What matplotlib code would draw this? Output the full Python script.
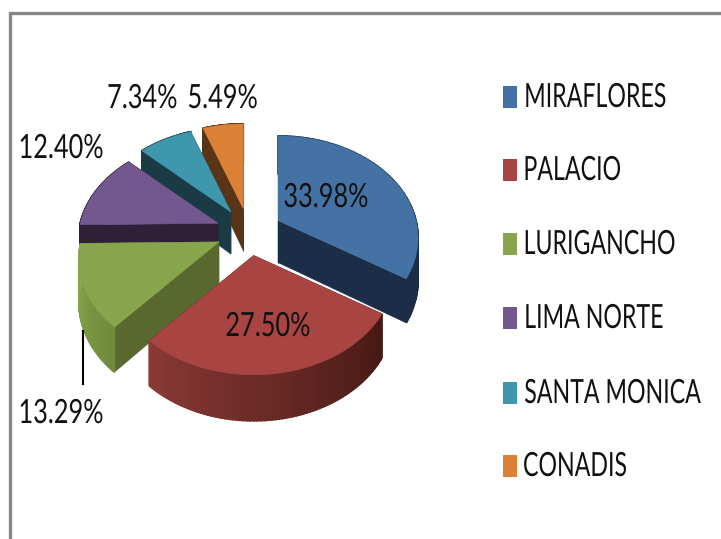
import numpy as np
import matplotlib
matplotlib.use('Agg')
import matplotlib.pyplot as plt
from matplotlib.colors import to_rgb
from matplotlib.patches import Rectangle
from matplotlib.patheffects import AbstractPathEffect
from matplotlib.transforms import Affine2D

names = ['MIRAFLORES', 'PALACIO', 'LURIGANCHO', 'LIMA NORTE', 'SANTA MONICA', 'CONADIS']
shares = [33.98, 27.50, 13.29, 12.40, 7.34, 5.49]
labels = ['33.98%', '27.50%', '13.29%', '12.40%', '7.34%', '5.49%']
top_colors = ['#4472a5', '#a84542', '#87a54a', '#735890', '#3f97ae', '#db8237']
cut_colors = ['#1b2d47', '#451813', '#58682f', '#2e2038', '#1a3b46', '#5a3417']
rim_left = ['#1b2d47', '#8a3a35', '#8aa94c', '#2e2038', '#1a3b46', '#5a3417']
rim_right = ['#1b2d47', '#451813', '#6f8a3c', '#2e2038', '#1a3b46', '#5a3417']

# pie geometry, in pixels
cx, cy = 249, 232
rx, ry = 138, 99
persp = 0.17
depth = 42
explode = 0.24


class Squeeze(AbstractPathEffect):
    # the reference text is stretched tall and narrow, so narrow the glyphs
    def __init__(self, sx, anchor='left'):
        super().__init__()
        self.sx = sx
        self.anchor = anchor

    def draw_path(self, renderer, gc, tpath, affine, rgbFace=None):
        box = tpath.get_extents()
        x0 = {'left': box.x0, 'center': (box.x0 + box.x1) / 2, 'right': box.x1}[self.anchor]
        squeeze = Affine2D().translate(-x0, 0).scale(self.sx, 1).translate(x0, 0)
        renderer.draw_path(gc, tpath, squeeze + affine, rgbFace)


def project(theta, apex):
    # theta runs clockwise from 12 o'clock
    xp = np.sin(theta)
    yp = np.cos(theta)
    w = 1 + persp * yp
    return apex[0] + rx * xp / w, apex[1] - ry * yp / w, depth - 4 * yp


def fill(ax, xs, ys, color, lw=0.4):
    ax.fill(xs, ys, color=color, lw=lw, zorder=2)


def draw_slice(ax, start, end, i):
    mid = (start + end) / 2
    apex = (cx + rx * explode * np.sin(mid), cy - ry * explode * np.cos(mid))
    th = np.linspace(start, end, 80)
    x, y, d = project(th, apex)

    # cut faces
    for k in (0, -1):
        fill(ax, [apex[0], x[k], x[k], apex[0]],
             [apex[1], y[k], y[k] + d[k], apex[1] + depth], cut_colors[i])

    # outer rim, shaded from left to right
    c0 = np.array(to_rgb(rim_left[i]))
    c1 = np.array(to_rgb(rim_right[i]))
    for j in range(len(th) - 1):
        t = (j + 0.5) / (len(th) - 1)
        if x[0] > x[-1]:
            t = 1 - t
        fill(ax, [x[j], x[j + 1], x[j + 1], x[j]],
             [y[j], y[j + 1], y[j + 1] + d[j + 1], y[j] + d[j]], tuple(c0 + (c1 - c0) * t), lw=1.2)

    # top face
    fill(ax, np.r_[apex[0], x], np.r_[apex[1], y], top_colors[i])


fig = plt.figure(figsize=(7.21, 5.39), dpi=100)
ax = fig.add_axes([0, 0, 1, 1])
ax.set_xlim(0, 721)
ax.set_ylim(539, 0)
ax.axis('off')

# chart border, only top and left show
ax.plot([10, 10, 721], [539, 12.5, 12.5], color='#868686', lw=2.4, solid_joinstyle='miter')

edges = np.r_[0, np.cumsum(shares)] / sum(shares) * 2 * np.pi
for i in [5, 4, 3, 0, 2, 1]:
    draw_slice(ax, edges[i], edges[i + 1], i)

font = 'Lato'
fs = 24
label_sx = 0.76
legend_sx = 0.695


def put_text(x, y, txt, anchor, sx, zorder=3):
    ax.text(x, y, txt, family=font, fontsize=fs, color='#111111', ha=anchor, va='center',
            zorder=zorder, path_effects=[Squeeze(sx, anchor)])


label_pos = [(326, 198), (268, 327), (61, 414), (61, 149), (178, 99), (187, 99)]
label_anchor = ['center', 'center', 'center', 'center', 'right', 'left']
for txt, (px, py), anc in zip(labels, label_pos, label_anchor):
    put_text(px, py, txt, anc, label_sx)

# leader line for LURIGANCHO
ax.plot([83, 83], [331, 384], color='black', lw=1.5, zorder=3)

# legend, long names anchored on their right end so the text box stays inside the figure
legend_y = [97, 170, 244, 318, 393, 466]
legend_right = {'MIRAFLORES': 667, 'LURIGANCHO': 676, 'LIMA NORTE': 664, 'SANTA MONICA': 701}
for name, color, ly in zip(names, top_colors, legend_y):
    ax.add_patch(Rectangle((503, ly - 11), 14, 22, facecolor=color, edgecolor='none'))
    if name in legend_right:
        put_text(legend_right[name], ly + 1, name, 'right', legend_sx)
    else:
        put_text(522.5, ly + 1, name, 'left', legend_sx)

fig.savefig('out.png', dpi=100)
